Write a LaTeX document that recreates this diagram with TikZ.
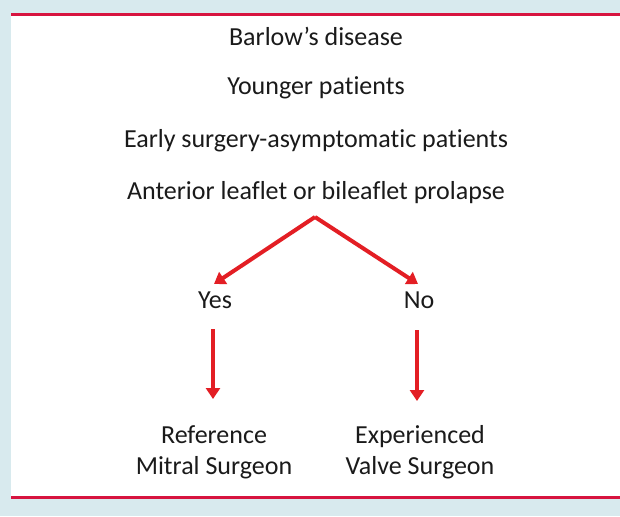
\documentclass[tikz,border=0pt]{standalone}
\usepackage{fontspec}
\setmainfont[Ligatures=CommonOff]{Carlito}
\usetikzlibrary{arrows.meta}
\definecolor{bgblue}{HTML}{D8EAEE}
\definecolor{rulered}{HTML}{D7143F}
\definecolor{arrred}{HTML}{E31E24}
\definecolor{txt}{HTML}{1A1A1A}
\begin{document}
\begin{tikzpicture}[x=1pt,y=-1pt,
  lbl/.style={inner sep=0pt,text=txt,font=\fontsize{26}{31}\selectfont,align=center},
  arr/.style={draw=arrred,line width=4pt,-{Triangle[length=11pt,width=14pt]}},
  rule/.style={draw=rulered,line width=3pt}]
\fill[bgblue] (0,0) rectangle (620,516);
\fill[white] (11,14) rectangle (620,498);
\useasboundingbox (0,0) rectangle (620,516);
\draw[rule] (11,14.5) -- (620,14.5);
\draw[rule] (11,497.5) -- (620,497.5);
\node[lbl] (t1) at (316,36) {Barlow’s disease};
\node[lbl] (t2) at (316,88) {Younger patients};
\node[lbl] (t3) at (316,141) {Early surgery-asymptomatic patients};
\node[lbl] (t4) at (316,193) {Anterior leaflet or bileaflet prolapse};
\coordinate (apex) at (315,217);
\coordinate (yesend) at (214,284);
\coordinate (noend) at (418,284);
\node[lbl] (yes) at (215,300) {Yes};
\node[lbl] (no) at (419,300) {No};
\draw[arr] (apex) -- (yesend);
\draw[arr] (apex) -- (noend);
\coordinate (ys) at (213,329);
\coordinate (ye) at (213,399);
\coordinate (ns) at (417,330);
\coordinate (ne) at (417,401);
\draw[arr] (ys) -- (ye);
\draw[arr] (ns) -- (ne);
\node[lbl] (ref) at (214,452) {Reference\\Mitral Surgeon};
\node[lbl] (exp) at (420,452) {Experienced\\Valve Surgeon};
\end{tikzpicture}
\end{document}
